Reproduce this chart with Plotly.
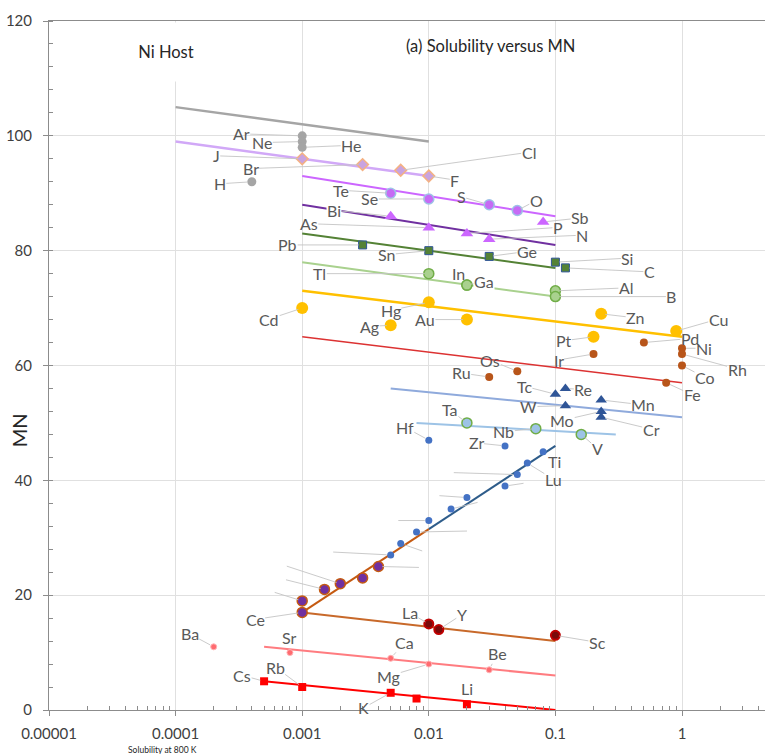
import numpy as np
import plotly.graph_objects as go

# ---------------- data ----------------
noble_names = ["Ar", "Ne", "He", "H"]
noble_x = [0.001, 0.001, 0.001, 0.0004]
noble_y = [100, 99, 98, 92]

halogen_names = ["J", "Br", "Cl", "F"]
halogen_x = [0.001, 0.003, 0.006, 0.01]
halogen_y = [96, 95, 94, 93]

chalc_names = ["Te", "Se", "S", "O"]
chalc_x = [0.005, 0.01, 0.03, 0.05]
chalc_y = [90, 89, 88, 87]

pnict_names = ["Bi", "As", "P", "N", "Sb"]
pnict_x = [0.005, 0.01, 0.02, 0.03, 0.08]
pnict_y = [86, 84, 83, 82, 85]

g14_names = ["Pb", "Sn", "Ge", "Si", "C"]
g14_x = [0.003, 0.01, 0.03, 0.1, 0.12]
g14_y = [81, 80, 79, 78, 77]

g13_names = ["Tl", "In", "Ga", "Al", "B"]
g13_x = [0.01, 0.02, 0.02, 0.1, 0.1]
g13_y = [76, 74, 74, 73, 72]

cu_names = ["Cd", "Ag", "Hg", "Au", "Zn", "Pt", "Cu"]
cu_x = [0.001, 0.005, 0.01, 0.02, 0.23, 0.2, 0.9]
cu_y = [70, 67, 71, 68, 69, 65, 66]

pgm_names = ["Pd", "Ni", "Rh", "Ir", "Co", "Fe", "Ru", "Os"]
pgm_x = [0.5, 1, 1, 0.2, 1, 0.75, 0.03, 0.05]
pgm_y = [64, 63, 62, 62, 60, 57, 58, 59]

tm_names = ["Tc", "Re", "W", "Mn", "Mo", "Cr"]
tm_x = [0.1, 0.12, 0.12, 0.23, 0.23, 0.23]
tm_y = [55, 56, 53, 54, 52, 51]

g5_names = ["Ta", "Nb", "V"]
g5_x = [0.02, 0.07, 0.16]
g5_y = [50, 49, 48]

g4_names = ["Hf", "Zr", "Ti", "Lu", "", "", "", "", "", "", "", ""]
g4_x = [0.01, 0.04, 0.08, 0.06, 0.005, 0.006, 0.008, 0.01, 0.015, 0.02, 0.04, 0.05]
g4_y = [47, 46, 45, 43, 27, 29, 31, 33, 35, 37, 39, 41]

ln_names = ["Ce", "", "", "", "", ""]
ln_x = [0.001, 0.001, 0.0015, 0.002, 0.003, 0.004]
ln_y = [17, 19, 21, 22, 23, 25]

g3_names = ["La", "Y", "Sc"]
g3_x = [0.01, 0.012, 0.1]
g3_y = [15, 14, 13]

ae_names = ["Ba", "Sr", "Ca", "Mg", "Be"]
ae_x = [0.0002, 0.0008, 0.005, 0.01, 0.03]
ae_y = [11, 10, 9, 8, 7]

alk_names = ["Cs", "Rb", "K", "", "Li"]
alk_x = [0.0005, 0.001, 0.005, 0.008, 0.02]
alk_y = [5, 4, 3, 2, 1]

# trend lines: start/end solubility and MN
trend_x0 = [1e-4, 1e-4, 1e-3, 1e-3, 1e-3, 1e-3, 1e-3, 1e-3, 0.005, 0.008, 0.01, 0.001, 0.001, 0.0005, 0.0005]
trend_x1 = [1e-2, 1e-2, 0.1, 0.1, 0.1, 0.1, 1, 1, 1, 0.3, 0.1, 0.01, 0.1, 0.1, 0.1]
trend_y0 = [105, 99, 93, 88, 83, 78, 73, 65, 56, 50, 31.5, 17, 17, 11, 5]
trend_y1 = [99, 93, 86, 81, 77, 72, 65, 57, 51, 48, 46, 31.5, 12, 6, 0]

x_tickvals = [1e-5, 1e-4, 1e-3, 1e-2, 1e-1, 1]
x_ticktext = ["0.00001", "0.0001", "0.001", "0.01", "0.1", "1"]

# ---------------- styles ----------------
trend_colors = ["#A5A5A5", "#D1A8F7", "#CC66FF", "#7030A0", "#548235", "#A9D18E",
                "#FFC000", "#DC3232", "#8FAADC", "#9DC3E6", "#2E5C8A", "#C55A11",
                "#C8692A", "#FF7C80", "#FF0000"]
trend_widths = [2.5, 2.5, 2, 2, 2, 2, 2.5, 1.5, 2, 2, 2, 2, 2, 2, 2]

groups = [
    (noble_names, noble_x, noble_y, dict(symbol="circle", size=9, color="#A5A5A5")),
    (halogen_names, halogen_x, halogen_y, dict(symbol="diamond", size=9, color="#C9A3E0", line=dict(color="#F4B183", width=1.5))),
    (chalc_names, chalc_x, chalc_y, dict(symbol="circle", size=10, color="#C66BF5", line=dict(color="#9DC3E6", width=1.5))),
    (pnict_names, pnict_x, pnict_y, dict(symbol="triangle-up", size=11, color="#CC66FF")),
    (g14_names, g14_x, g14_y, dict(symbol="square", size=8, color="#548235", line=dict(color="#2F5597", width=1))),
    (g13_names, g13_x, g13_y, dict(symbol="circle", size=10, color="#A9D18E", line=dict(color="#70AD47", width=1.5))),
    (cu_names, cu_x, cu_y, dict(symbol="circle", size=12, color="#FFC000")),
    (pgm_names, pgm_x, pgm_y, dict(symbol="circle", size=8, color="#B8551A")),
    (tm_names, tm_x, tm_y, dict(symbol="triangle-up", size=10, color="#2F5597")),
    (g5_names, g5_x, g5_y, dict(symbol="circle", size=10, color="#9DC3E6", line=dict(color="#70AD47", width=1.5))),
    (g4_names, g4_x, g4_y, dict(symbol="circle", size=7, color="#4472C4")),
    (ln_names, ln_x, ln_y, dict(symbol="circle", size=10, color="#7030A0", line=dict(color="#C55A11", width=1.5))),
    (g3_names, g3_x, g3_y, dict(symbol="circle", size=9, color="#7A0A0A", line=dict(color="#C00000", width=2))),
    (ae_names, ae_x, ae_y, dict(symbol="circle", size=6, color="#FF6B70", line=dict(color="#FFB3B5", width=1))),
    (alk_names, alk_x, alk_y, dict(symbol="square", size=8, color="#FF0000")),
]

# label offsets in pixels (text position relative to the point)
label_offsets = {
    "Ar": (-61, -2), "Ne": (-40, 1), "He": (49, -2), "H": (-32, 2),
    "J": (-86, -3), "Br": (-112, 4), "Cl": (128, -18), "F": (26, 4),
    "Te": (-50, -3), "Se": (-59, 0), "S": (-28, -8), "O": (19, -10),
    "Bi": (-57, -6), "As": (-120, -4), "P": (91, -6), "N": (93, -4), "Sb": (37, -4),
    "Pb": (-75, 0), "Sn": (-42, 4), "Ge": (38, -5), "Si": (72, -4), "C": (84, 4),
    "Tl": (-109, 0), "In": (-8, -12), "Ga": (17, -4), "Al": (71, -3), "B": (116, 0),
    "Cd": (-33, 11), "Ag": (-21, 1), "Hg": (-38, 8), "Au": (-42, 0), "Zn": (34, 4),
    "Pt": (-30, 4), "Cu": (42, -12),
    "Pd": (46, -4), "Ni": (22, 0), "Rh": (55, 15), "Ir": (-35, 6), "Co": (23, 12),
    "Fe": (26, 12), "Ru": (-28, -4), "Os": (-27, -11),
    "Tc": (-31, -8), "Re": (18, 1), "W": (-37, 1), "Mn": (42, 5), "Mo": (-39, 9), "Cr": (50, 12),
    "Ta": (-17, -13), "Nb": (-32, 3), "V": (16, 14),
    "Hf": (-24, -13), "Zr": (-29, -3), "Ti": (11, 10), "Lu": (26, 16),
    "Ce": (-47, 7), "La": (-19, -11), "Y": (23, -15), "Sc": (42, 7),
    "Ba": (-24, -13), "Sr": (0, -15), "Ca": (14, -16), "Mg": (-40, 12), "Be": (8, -16),
    "Cs": (-22, -6), "Rb": (-27, -20), "K": (-27, 15), "Li": (0, -16),
}
no_leader = {"Li", "Ti", "Sr"}
masked_labels = {"Bi", "Ga"}   # labels whose box hides the trend line behind them

# leader lines without text (unlabelled points): (group index, point index, ax, ay)
blank_leaders = [
    (11, 1, -29, -9), (11, 2, -40, -10), (11, 3, -55, -18), (11, 5, 42, 1),
    (10, 4, -59, -3), (10, 5, 23, 8), (10, 6, 52, -1), (10, 7, -32, 0),
    (10, 8, 28, -7), (10, 9, -29, -2), (10, 10, 20, -3), (10, 11, -65, -2),
]

fig = go.Figure()

for i in range(len(trend_x0)):
    fig.add_trace(go.Scatter(
        x=[trend_x0[i], trend_x1[i]], y=[trend_y0[i], trend_y1[i]], mode="lines",
        line=dict(color=trend_colors[i], width=trend_widths[i]),
        showlegend=False, hoverinfo="skip"))

for names, xs, ys, mk in groups:
    fig.add_trace(go.Scatter(x=xs, y=ys, mode="markers", marker=mk,
                             text=names, showlegend=False))

LABEL_FONT = dict(family="Lato, Open Sans, sans-serif", size=16, color="#595959")
LEADER = "#C4C4C4"

annotations = []
for names, xs, ys, mk in groups:
    for n, xv, yv in zip(names, xs, ys):
        if not n:
            continue
        ax, ay = label_offsets[n]
        annotations.append(dict(
            x=np.log10(xv), y=yv, xref="x", yref="y", text=n, font=LABEL_FONT,
            showarrow=True, ax=ax, ay=ay, arrowhead=0, arrowwidth=0.9,
            arrowcolor=(LEADER if n not in no_leader else "rgba(0,0,0,0)"),
            standoff=4, bgcolor=("white" if n in masked_labels else "rgba(0,0,0,0)"),
            borderpad=0))

for gi, pi, ax, ay in blank_leaders:
    xs, ys = groups[gi][1], groups[gi][2]
    annotations.append(dict(
        x=np.log10(xs[pi]), y=ys[pi], xref="x", yref="y", text="",
        showarrow=True, ax=ax, ay=ay, arrowhead=0, arrowwidth=0.9,
        arrowcolor=LEADER, standoff=4))

annotations += [
    dict(x=0.1634, y=0.955, xref="paper", yref="paper", text="Ni Host",
         showarrow=False, font=dict(family="Lato, sans-serif", size=16.5, color="#262626"),
         bgcolor="white", width=100, height=56, xanchor="center", yanchor="middle"),
    dict(x=0.616, y=0.9637, xref="paper", yref="paper", text="(a) Solubility versus MN",
         showarrow=False, font=dict(family="Lato, sans-serif", size=16.5, color="#262626"),
         xanchor="center", yanchor="middle"),
    dict(x=-0.0419, y=0.406, xref="paper", yref="paper", text="MN", textangle=-90,
         showarrow=False, font=dict(family="Lato, sans-serif", size=20, color="#262626"),
         xanchor="center", yanchor="middle"),
    dict(x=0.159, y=0, xref="paper", yref="paper", yshift=-40, text="Solubility at 800 K",
         showarrow=False, font=dict(family="Lato, sans-serif", size=8.5, color="#262626"),
         xanchor="center", yanchor="middle"),
]

minor_x = [k * 10.0 ** n for n in range(-5, 1) for k in range(2, 10)]

fig.update_layout(
    width=765, height=754,
    margin=dict(l=49, r=0, t=21, b=44),
    plot_bgcolor="white", paper_bgcolor="white",
    showlegend=False,
    annotations=annotations,
    xaxis=dict(
        type="log", range=[-5, 0.6556], automargin=False,
        tickmode="array", tickvals=x_tickvals, ticktext=x_ticktext,
        showgrid=True, gridcolor="#E0E0E0", gridwidth=1,
        showline=True, linecolor="#8C8C8C", linewidth=1, mirror=True,
        ticks="outside", ticklen=5, tickcolor="#8C8C8C",
        minor=dict(tickmode="array", tickvals=minor_x, ticks="inside", ticklen=4,
                   tickcolor="#8C8C8C", showgrid=False),
        tickfont=dict(family="Lato, sans-serif", size=15, color="#404040"),
        ticklabelstandoff=5, zeroline=False,
    ),
    yaxis=dict(
        range=[0, 120], dtick=20, tick0=0, automargin=False,
        showgrid=True, gridcolor="#E0E0E0", gridwidth=1,
        showline=True, linecolor="#8C8C8C", linewidth=1,
        ticks="outside", ticklen=5, tickcolor="#8C8C8C",
        minor=dict(dtick=4, ticks="inside", ticklen=4, tickcolor="#8C8C8C", showgrid=False),
        tickfont=dict(family="Lato, sans-serif", size=15, color="#404040"),
        ticklabelstandoff=8, zeroline=False,
    ),
)

fig.write_html("out.html", config={"displayModeBar": False},
               post_script="document.body.style.margin='0';document.body.style.overflow='hidden';")
